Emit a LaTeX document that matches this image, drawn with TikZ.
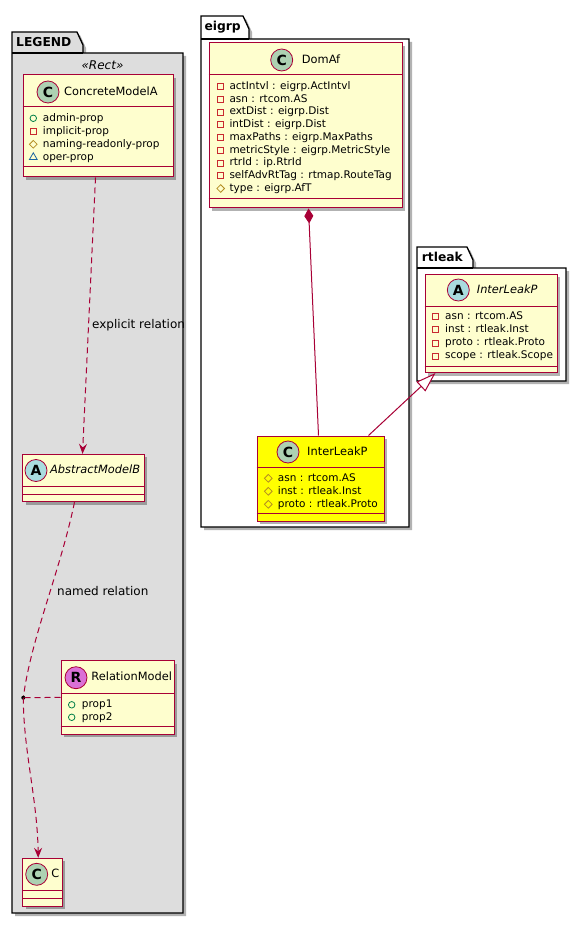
\documentclass[tikz,border=0pt]{standalone}
\usepackage{fontspec}
\setmainfont{DejaVu Sans}
\usetikzlibrary{arrows.meta,shadows,calc,shapes.geometric}
\definecolor{umlborder}{HTML}{A80036}
\definecolor{umlfill}{HTML}{FEFECE}
\definecolor{legendbg}{HTML}{DDDDDD}
\definecolor{circC}{HTML}{ADD1B2}
\definecolor{circA}{HTML}{A9DCDF}
\definecolor{circR}{HTML}{DA70D6}
\definecolor{vpub}{HTML}{038048}
\definecolor{vpriv}{HTML}{C82930}
\definecolor{vprot}{HTML}{B38D22}
\definecolor{vpkg}{HTML}{1963A0}
\definecolor{hlyellow}{HTML}{FFFF00}
\newcommand{\attrsize}{\fontsize{10.5}{12.5}\selectfont}
\newcommand{\namesize}{\fontsize{11.4}{13.5}\selectfont}
\newcommand{\lblsize}{\fontsize{12}{14}\selectfont}
\newcommand{\pkgsize}{\fontsize{12.3}{14}\selectfont}
\begin{document}
\begin{tikzpicture}[x=1pt,y=-1pt,
  shad/.style={drop shadow={shadow xshift=3pt,shadow yshift=-3pt,opacity=0.3,fill=black}},
  pkgshape/.style={draw=black,line width=1.3pt,line join=miter,shad},
  pkgtitle/.style={anchor=west,inner sep=0pt,font=\pkgsize\bfseries,text height=9pt,text depth=2.5pt},
  classbox/.style={rectangle,draw=umlborder,line width=1pt,fill=umlfill,inner sep=0pt,shad},
  divider/.style={draw=umlborder,line width=1pt},
  circ/.style={circle,draw=umlborder,line width=0.8pt,minimum size=22pt,inner sep=0pt,font=\fontsize{14}{14}\selectfont\bfseries},
  cname/.style={anchor=west,inner sep=0pt,font=\namesize,text height=8.4pt,text depth=2.3pt},
  attr/.style={anchor=west,inner sep=0pt,font=\attrsize,text height=7.6pt,text depth=2.1pt},
  vispub/.style={circle,draw=vpub,line width=0.8pt,minimum size=6.5pt,inner sep=0pt},
  vispriv/.style={rectangle,draw=vpriv,line width=0.8pt,minimum size=6pt,inner sep=0pt},
  visprot/.style={diamond,draw=vprot,line width=0.8pt,minimum size=8pt,inner sep=0pt},
  vispkg/.style={regular polygon,regular polygon sides=3,draw=vpkg,line width=0.8pt,minimum size=9pt,inner sep=0pt},
  umlline/.style={draw=umlborder,line width=1pt},
  dashline/.style={umlline,dash pattern=on 6pt off 4pt},
  dep/.style={dashline,-{Stealth[length=10pt,width=8pt,inset=3.5pt]}},
  lbl/.style={anchor=west,inner sep=0pt,font=\lblsize,text height=8.8pt,text depth=2.5pt},
]
\useasboundingbox (0,0) rectangle (586,925);
\fill[white] (0,0) rectangle (586,925);

% ---------- packages ----------
\draw[pkgshape,fill=legendbg] (12,32) -- (77,32) -- (83,45) -- (83,53) -- (183,53) -- (183,913) -- (12,913) -- cycle;
\draw[line width=1.3pt] (12,53) -- (83,53);
\node[pkgtitle] (legendT) at (16,43) {LEGEND};
\node[inner sep=0pt,font=\fontsize{12}{14}\selectfont\itshape,text height=8.8pt,text depth=2.5pt] (stereo) at (102.5,66.7) {«Rect»};

\draw[pkgshape,fill=white] (201,16) -- (243,16) -- (249,29) -- (249,39) -- (409,39) -- (409,527) -- (201,527) -- cycle;
\draw[line width=1.3pt] (201,39) -- (249,39);
\node[pkgtitle] (eigrpT) at (204.3,27) {eigrp};

\draw[pkgshape,fill=white] (417,247) -- (467,247) -- (473,260) -- (473,268) -- (566,268) -- (566,381) -- (417,381) -- cycle;
\draw[line width=1.3pt] (417,268) -- (473,268);
\node[pkgtitle] (rtleakT) at (421.7,258) {rtleak};

% ---------- ConcreteModelA ----------
\node[classbox,minimum width=150pt,minimum height=102pt] (cma) at (98,126) {};
\draw[divider] (cma.west |- 0,107) -- (cma.east |- 0,107);
\draw[divider] (cma.west |- 0,167) -- (cma.east |- 0,167);
\node[circ,fill=circC] (cmaC) at (48,92) {C};
\node[cname] (cmaN) at (64,92) {ConcreteModelA};
\foreach \vis/\txt [count=\i] in {vispub/admin-prop, vispriv/implicit-prop, visprot/naming-readonly-prop, vispkg/oper-prop}{
  \node[\vis] (cmav\i) at (33.3,{105.3+13*\i}) {};
  \node[attr] (cmat\i) at (42.7,{105.3+13*\i}) {\txt};
}

% ---------- AbstractModelB ----------
\node[classbox,minimum width=121.6pt,minimum height=47.4pt] (amb) at (83.5,478) {};
\draw[divider] (amb.west |- 0,486.7) -- (amb.east |- 0,486.7);
\draw[divider] (amb.west |- 0,494) -- (amb.east |- 0,494);
\node[circ,fill=circA] (ambA) at (36,470.5) {A};
\node[cname,font=\namesize\itshape] (ambN) at (50,470.5) {AbstractModelB};

% ---------- RelationModel ----------
\node[classbox,minimum width=113pt,minimum height=73.3pt] (rm) at (117.5,697.35) {};
\draw[divider] (rm.west |- 0,693.3) -- (rm.east |- 0,693.3);
\draw[divider] (rm.west |- 0,726.7) -- (rm.east |- 0,726.7);
\node[circ,fill=circR] (rmR) at (76,677.7) {R};
\node[cname] (rmN) at (91.2,677.7) {RelationModel};
\foreach \vis/\txt [count=\i] in {vispub/prop1, vispub/prop2}{
  \node[\vis] (rmv\i) at (71.7,{692.3+12.5*\i}) {};
  \node[attr] (rmt\i) at (81.7,{692.3+12.5*\i}) {\txt};
}

% ---------- C ----------
\node[classbox,minimum width=39.6pt,minimum height=47.7pt] (cbox) at (42.5,882.15) {};
\draw[divider] (cbox.west |- 0,890.7) -- (cbox.east |- 0,890.7);
\draw[divider] (cbox.west |- 0,898.3) -- (cbox.east |- 0,898.3);
\node[circ,fill=circC] (cboxC) at (36.7,874.3) {C};
\node[cname] (cboxN) at (51.2,874.3) {C};

% ---------- DomAf ----------
\node[classbox,minimum width=193pt,minimum height=165pt] (dom) at (305.5,125.5) {};
\draw[divider] (dom.west |- 0,75) -- (dom.east |- 0,75);
\draw[divider] (dom.west |- 0,199) -- (dom.east |- 0,199);
\node[circ,fill=circC] (domC) at (281.7,60) {C};
\node[cname] (domN) at (301.7,60) {DomAf};
\foreach \vis/\txt [count=\i] in {vispriv/actIntvl : eigrp.ActIntvl, vispriv/asn : rtcom.AS, vispriv/extDist : eigrp.Dist, vispriv/intDist : eigrp.Dist, vispriv/maxPaths : eigrp.MaxPaths, vispriv/metricStyle : eigrp.MetricStyle, vispriv/rtrId : ip.RtrId, vispriv/selfAdvRtTag : rtmap.RouteTag, visprot/type : eigrp.AfT}{
  \node[\vis] (domv\i) at (220.7,{74+12.72*\i}) {};
  \node[attr] (domt\i) at (229.3,{74+12.72*\i}) {\txt};
}

% ---------- rtleak InterLeakP ----------
\node[classbox,minimum width=132pt,minimum height=98.5pt] (rtl) at (491,323.25) {};
\draw[divider] (rtl.west |- 0,306) -- (rtl.east |- 0,306);
\draw[divider] (rtl.west |- 0,366) -- (rtl.east |- 0,366);
\node[circ,fill=circA] (rtlA) at (458.3,290) {A};
\node[cname,font=\namesize\itshape] (rtlN) at (476.7,290) {InterLeakP};
\foreach \vis/\txt [count=\i] in {vispriv/asn : rtcom.AS, vispriv/inst : rtleak.Inst, vispriv/proto : rtleak.Proto, vispriv/scope : rtleak.Scope}{
  \node[\vis] (rtlv\i) at (435,{303.6+13.1*\i}) {};
  \node[attr] (rtlt\i) at (445,{303.6+13.1*\i}) {\txt};
}

% ---------- eigrp InterLeakP (yellow) ----------
\node[classbox,fill=hlyellow,minimum width=127pt,minimum height=85pt] (yil) at (320.5,478.5) {};
\draw[divider] (yil.west |- 0,467) -- (yil.east |- 0,467);
\draw[divider] (yil.west |- 0,513) -- (yil.east |- 0,513);
\node[circ,fill=circC] (yilC) at (288,452) {C};
\node[cname] (yilN) at (307,452) {InterLeakP};
\foreach \vis/\txt [count=\i] in {visprot/asn : rtcom.AS, visprot/inst : rtleak.Inst, visprot/proto : rtleak.Proto}{
  \node[\vis] (yilv\i) at (268.3,{465.3+13*\i}) {};
  \node[attr] (yilt\i) at (277.7,{465.3+13*\i}) {\txt};
}

% ---------- connectors ----------
\draw[dep] ($(cma.south west)+(73,0)$) -- ($(amb.north west)+(60.3,0)$);
\node[lbl] (lblE) at (92,325) {explicit relation};

\draw[dashline] ($(amb.south west)+(52.3,0)$) .. controls (60,572) and (31,638) .. (23.3,697.7);
\node[circle,fill=black,inner sep=0pt,minimum size=4pt] (j) at (23.3,697.7) {};
\draw[dep] (j.center) .. controls (23.3,750) and (37.5,800) .. ($(cbox.north west)+(16,0)$);
\draw[dashline] (rm.west) -- (j.center);
\node[lbl] (lblN) at (57,592) {named relation};

\draw[umlline,{Diamond[length=15pt,width=9pt]}-] ($(dom.south west)+(100,0)$) -- ($(yil.north west)+(62,0)$);
\draw[umlline,-{Triangle[open,length=20pt,width=13pt,fill=white]}] ($(yil.north west)+(112,0)$) -- ($(rtl.south west)+(11,0)$);
\end{tikzpicture}
\end{document}
